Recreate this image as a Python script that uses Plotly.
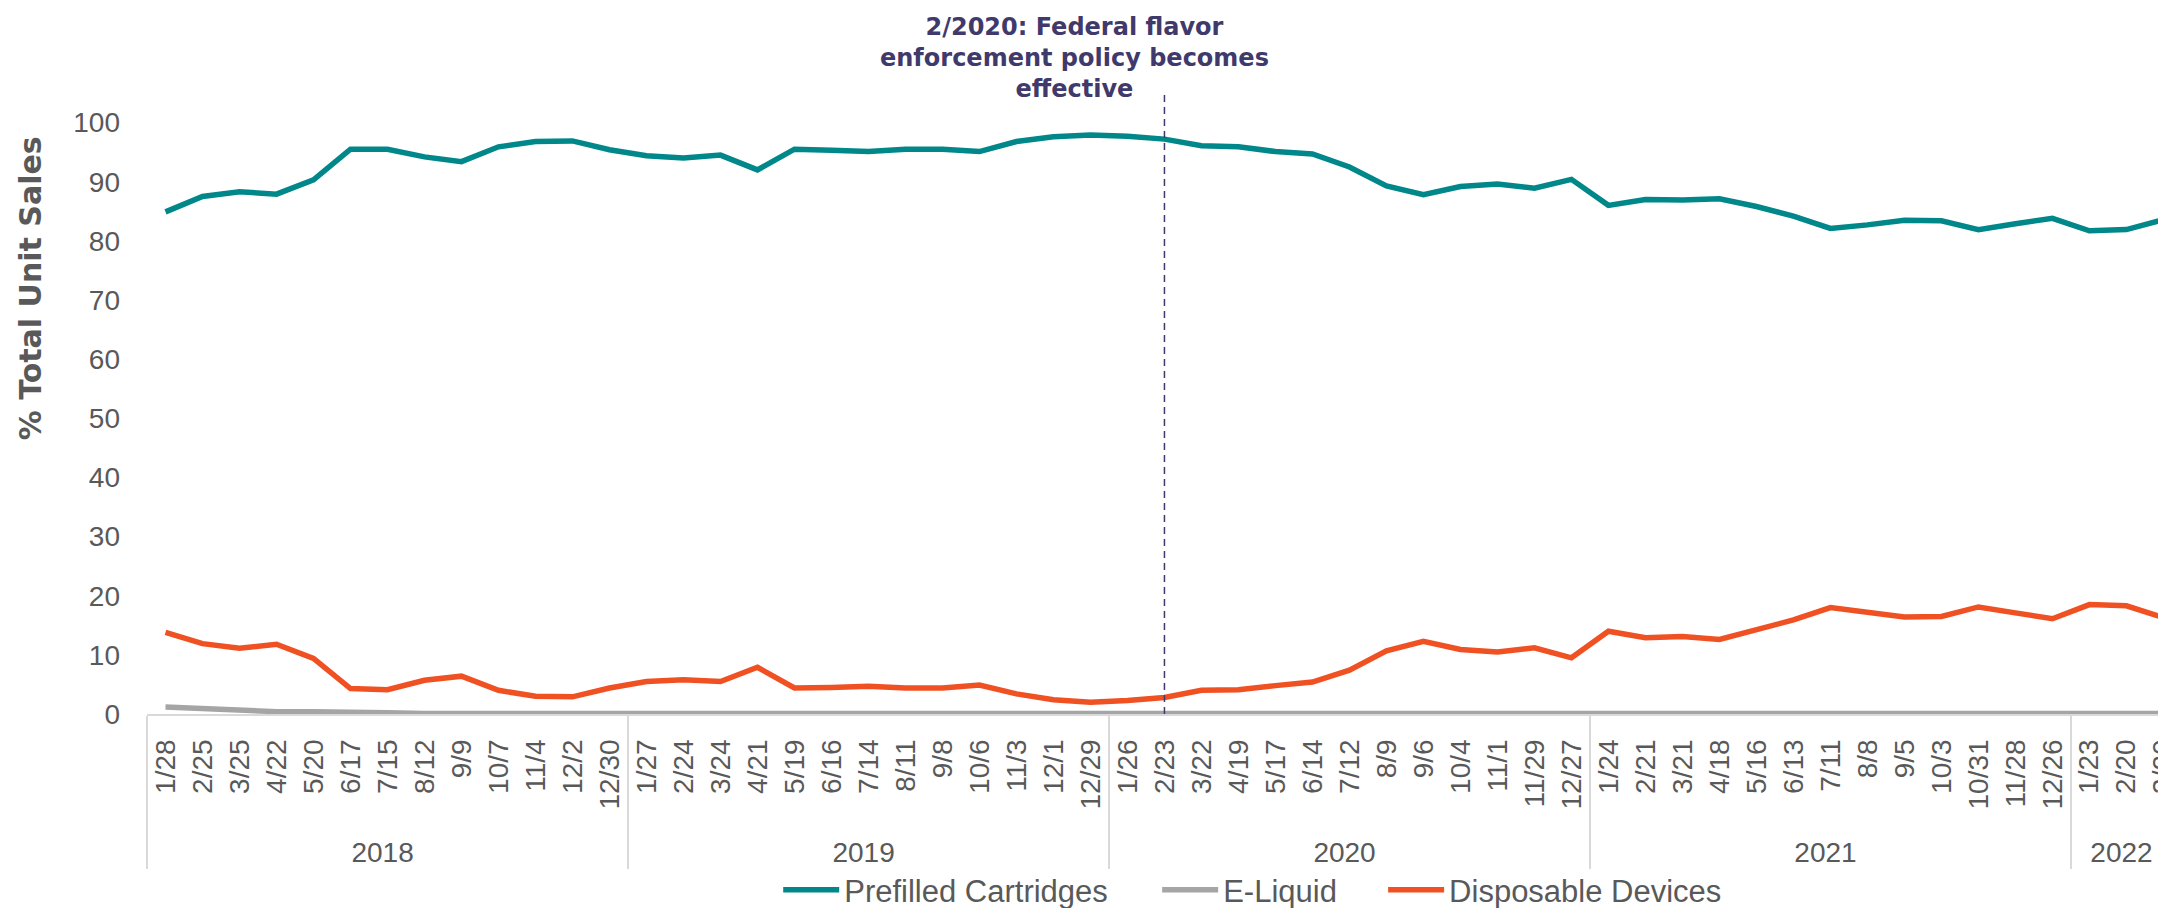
import plotly.graph_objects as go

years = ["2018", "2019", "2020", "2021", "2022"]
dates_by_year = [
    ["1/28", "2/25", "3/25", "4/22", "5/20", "6/17", "7/15", "8/12", "9/9", "10/7", "11/4", "12/2", "12/30"],
    ["1/27", "2/24", "3/24", "4/21", "5/19", "6/16", "7/14", "8/11", "9/8", "10/6", "11/3", "12/1", "12/29"],
    ["1/26", "2/23", "3/22", "4/19", "5/17", "6/14", "7/12", "8/9", "9/6", "10/4", "11/1", "11/29", "12/27"],
    ["1/24", "2/21", "3/21", "4/18", "5/16", "6/13", "7/11", "8/8", "9/5", "10/3", "10/31", "11/28", "12/26"],
    ["1/23", "2/20", "3/20"],
]

prefilled = [
    84.9, 87.5, 88.3, 87.9, 90.3, 95.5, 95.5, 94.2, 93.4, 95.9, 96.8, 96.9, 95.4,
    94.4, 94.0, 94.5, 92.0, 95.5, 95.3, 95.1, 95.5, 95.5, 95.1, 96.8, 97.6, 97.9,
    97.7, 97.2, 96.1, 95.9, 95.1, 94.7, 92.5, 89.3, 87.8, 89.2, 89.6, 88.9, 90.4,
    86.0, 87.0, 86.9, 87.1, 85.8, 84.2, 82.1, 82.7, 83.5, 83.4, 81.9, 82.9, 83.8,
    81.7, 81.9, 83.6,
]
eliquid = [
    1.2, 0.9, 0.7, 0.4, 0.4, 0.2, 0.2, 0.1, 0.2, 0.1, 0.1, 0.1, 0.1,
    0.1, 0.2, 0.2, 0.2, 0.2, 0.3, 0.2, 0.1, 0.1, 0.1, 0.1, 0.1, 0.1,
    0.1, 0.1, 0.1, 0.1, 0.1, 0.1, 0.1, 0.1, 0.1, 0.1, 0.1, 0.1, 0.1,
    0.1, 0.1, 0.1, 0.3, 0.1, 0.1, 0.1, 0.1, 0.1, 0.1, 0.1, 0.1, 0.1,
    0.1, 0.1, 0.1,
]
disposable = [
    13.8, 11.9, 11.1, 11.8, 9.4, 4.3, 4.1, 5.7, 6.4, 4.0, 3.0, 2.9, 4.4,
    5.5, 5.8, 5.5, 7.9, 4.4, 4.5, 4.7, 4.4, 4.4, 4.9, 3.4, 2.4, 2.0,
    2.3, 2.8, 4.0, 4.1, 4.8, 5.4, 7.4, 10.7, 12.3, 10.9, 10.5, 11.2, 9.5,
    14.0, 12.9, 13.1, 12.6, 14.3, 15.9, 18.0, 17.1, 16.4, 16.5, 18.1, 17.1, 16.1,
    18.5, 18.3, 16.3,
]

policy_year = "2020"
policy_date = "2/23"
annotation_text = "2/2020: Federal flavor<br>enforcement policy becomes<br>effective"

# trailing spacing so rotated date labels sit a little further below the axis line
PAD = "\u00a0\u2006"


def lab(d):
    return d + PAD


x_years = [y for y, ds in zip(years, dates_by_year) for _ in ds]
x_dates = [lab(d) for ds in dates_by_year for d in ds]
x = [x_years, x_dates]

GRAY_TXT = "#595959"
NAVY = "#3F3A6B"
REG = "Liberation Sans, Arial, sans-serif"
BOLD = "DejaVu Sans, Verdana, sans-serif"

# page body has an 8px margin: work in window pixels and convert
OFF = 8
W, H = 2166 - OFF, 908 - OFF
ML, MR = 146.7 - OFF, 0
MT = 93 - OFF
MB = H - (714 - OFF)
PW = W - ML - MR
PH = H - MT - MB


def px_x(p):
    return (p - OFF - ML) / PW


def px_y(p):
    return (H - MB - (p - OFF)) / PH


fig = go.Figure()
fig.add_trace(go.Scatter(x=x, y=prefilled, mode="lines", name="Prefilled Cartridges",
                         line=dict(color="#00878A", width=5.5), legend="legend"))
fig.add_trace(go.Scatter(x=x, y=eliquid, mode="lines", name="E-Liquid",
                         line=dict(color="#A5A5A5", width=5.5), legend="legend2"))
fig.add_trace(go.Scatter(x=x, y=disposable, mode="lines", name="Disposable Devices",
                         line=dict(color="#F05123", width=5.5), legend="legend3"))
fig.add_trace(go.Scatter(x=[[policy_year, policy_year], [lab(policy_date), lab(policy_date)]],
                         y=[0, 105], mode="lines", showlegend=False, hoverinfo="skip",
                         line=dict(color=NAVY, width=1.5, dash="7px,5px")))

leg_common = dict(orientation="h", xanchor="left", yref="container", y=(H - (890 - OFF)) / H,
                  yanchor="middle", font=dict(family=REG, size=31, color=GRAY_TXT),
                  itemwidth=56, bgcolor="rgba(0,0,0,0)")

fig.update_layout(
    width=W, height=H,
    margin=dict(l=ML, r=MR, t=MT, b=MB, autoexpand=False),
    paper_bgcolor="white", plot_bgcolor="white",
    font=dict(family=REG, size=28, color=GRAY_TXT),
    showlegend=True,
    legend=dict(x=px_x(778), **leg_common),
    legend2=dict(x=px_x(1157), **leg_common),
    legend3=dict(x=px_x(1383), **leg_common),
    xaxis=dict(
        type="multicategory",
        range=[-0.5, 54.07],
        automargin=False,
        showline=True, linecolor="#D9D9D9", linewidth=1.5,
        showgrid=False, ticks="",
        tickangle=-90,
        tickfont=dict(family=REG, size=28, color=GRAY_TXT),
        showdividers=True, dividercolor="#D9D9D9", dividerwidth=1.5,
        zeroline=False,
    ),
    yaxis=dict(
        range=[0, 105], tickmode="array", tickvals=list(range(0, 101, 10)),
        automargin=False,
        showgrid=False, zeroline=False, showline=False, ticks="",
        tickfont=dict(family=REG, size=28, color=GRAY_TXT),
        ticklabelstandoff=26,
    ),
)

fig.add_annotation(text="% Total Unit Sales", textangle=-90, xref="paper", yref="paper",
                   x=px_x(30), y=px_y(288), xanchor="center", yanchor="middle",
                   showarrow=False, font=dict(family=BOLD, size=30, color=GRAY_TXT, weight="bold"))
fig.add_annotation(text=annotation_text, xref="paper", yref="paper",
                   x=px_x(1074), y=px_y(11), xanchor="center", yanchor="top",
                   showarrow=False, align="center",
                   font=dict(family=BOLD, size=24, color=NAVY, weight="bold"))

fig.write_html("out.html")
